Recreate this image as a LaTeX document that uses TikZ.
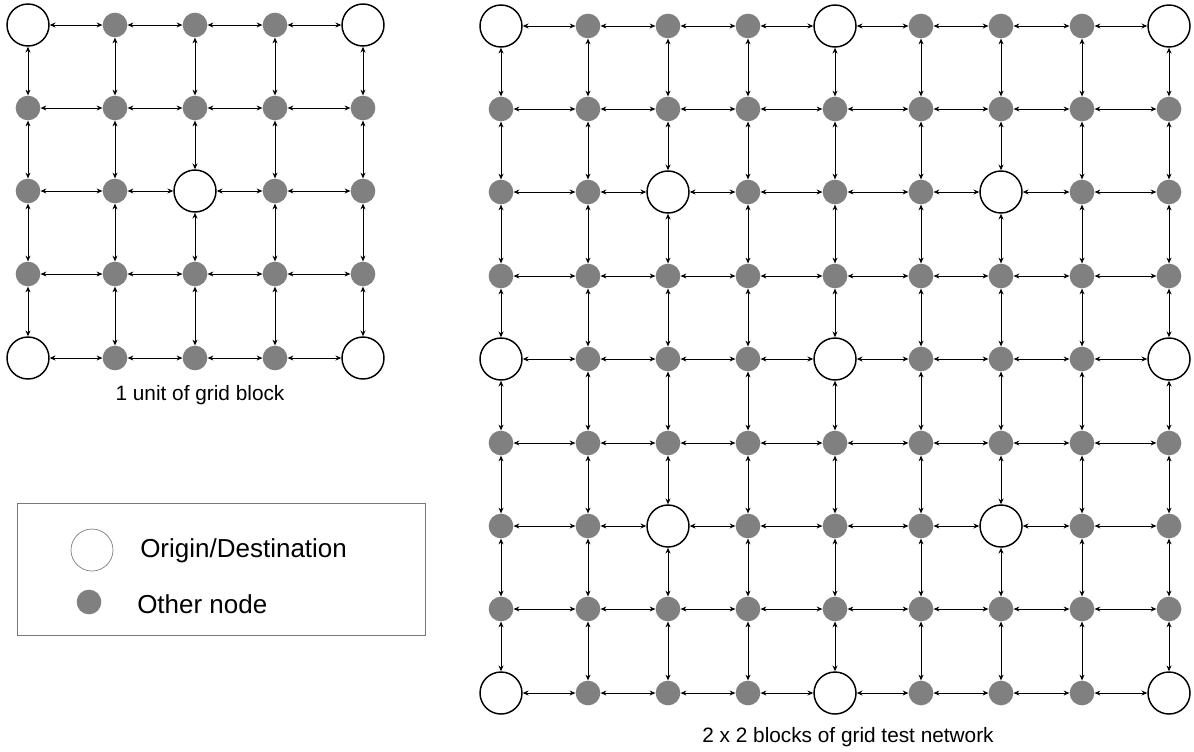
\documentclass[tikz,border=0pt]{standalone}
\usepackage{fontspec}
\setmainfont{Liberation Sans}
\usetikzlibrary{arrows.meta}
\definecolor{nodegray}{RGB}{128,128,128}
\definecolor{boxgray}{RGB}{120,120,120}
\begin{document}
\begin{tikzpicture}[x=0.75pt,y=-0.75pt,
  od/.style={circle,draw=black,line width=1.1pt,fill=white,minimum size=31.5pt,inner sep=0pt},
  oth/.style={circle,fill=nodegray,draw=none,minimum size=18.5pt,inner sep=0pt},
  link/.style={{Stealth[length=4.3pt,width=3.7pt]}-{Stealth[length=4.3pt,width=3.7pt]},line width=0.75pt,black},
  lbl/.style={font=\fontsize{15.6}{18}\selectfont,inner sep=0pt},
  lgtext/.style={font=\fontsize{19.5}{23}\selectfont,inner sep=0pt,anchor=west}]
\useasboundingbox (0,0) rectangle (1194,751);
% left grid: 1 unit
\foreach \x [count=\i from 0] in {28,115,195,275,363} {
  \foreach \y [count=\j from 0] in {25,108,191,274,358} {
    \pgfmathtruncatemacro\big{(mod(\i,4)==0 && mod(\j,4)==0) || (\i==2 && \j==2)}
    \ifnum\big=1
      \node[od] (L-\i-\j) at (\x,\y) {};
    \else
      \node[oth] (L-\i-\j) at (\x,\y) {};
    \fi
  }
}
\foreach \i in {0,...,3} {
  \foreach \j in {0,...,4} {
    \pgfmathtruncatemacro\ni{\i+1}
    \draw[link] (L-\i-\j) -- (L-\ni-\j);
    \draw[link] (L-\j-\i) -- (L-\j-\ni);
  }
}
% right grid: 2 x 2 blocks
\foreach \x [count=\i from 0] in {501,588,668,748,835,921,1001,1082,1169} {
  \foreach \y [count=\j from 0] in {26,109,192,276,359,443,526,609,693} {
    \pgfmathtruncatemacro\big{(mod(\i,4)==0 && mod(\j,4)==0) || (mod(\i,4)==2 && mod(\j,4)==2)}
    \ifnum\big=1
      \node[od] (R-\i-\j) at (\x,\y) {};
    \else
      \node[oth] (R-\i-\j) at (\x,\y) {};
    \fi
  }
}
\foreach \i in {0,...,7} {
  \foreach \j in {0,...,8} {
    \pgfmathtruncatemacro\ni{\i+1}
    \draw[link] (R-\i-\j) -- (R-\ni-\j);
    \draw[link] (R-\j-\i) -- (R-\j-\ni);
  }
}
% captions
\node[lbl] (cap1) at (200,395) {1 unit of grid block};
\node[lbl] (cap2) at (848,737) {2 x 2 blocks of grid test network};
% legend
\node[draw=boxgray,line width=0.5pt,minimum width=306pt,minimum height=99pt,inner sep=0pt] (legend) at (221,569) {};
\node[od,draw=boxgray,line width=0.5pt] (lgod) at (92,550) {};
\node[oth] (lgoth) at (89,602) {};
\node[lgtext] (lgodtext) at (140,551) {Origin/Destination};
\node[lgtext] (lgothtext) at (137,604) {Other node};
\end{tikzpicture}
\end{document}
